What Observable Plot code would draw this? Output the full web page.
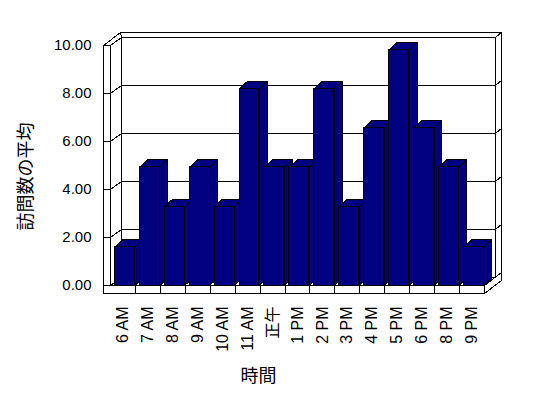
<!DOCTYPE html>
<html><head><meta charset="utf-8">
<script src="https://cdn.jsdelivr.net/npm/d3@7"></script>
<script src="https://cdn.jsdelivr.net/npm/@observablehq/plot@0.6"></script>
<style>
body{margin:0;background:#fff}
g[aria-label="x-axis tick label"]{font-size:16px}
g[aria-label="x-axis"] text{font-size:16px}
</style>
</head><body><div id="chart"></div>
<script>
const categories = ["6 AM","7 AM","8 AM","9 AM","10 AM","11 AM","正午","1 PM","2 PM","3 PM","4 PM","5 PM","6 PM","8 PM","9 PM"];
const values = [1.6,4.93,3.29,4.93,3.29,8.2,4.93,4.93,8.2,3.29,6.57,9.82,6.57,4.93,1.6];
const yTicks = [0,2,4,6,8,10];
const yTitle = "訪問数の平均";
const xTitle = "時間";

const N = categories.length;
const X0 = 0, X1 = N, Y0 = 0, Y1 = d3.max(yTicks);
const D1 = {x: 0.44, y: 0.333}, D2 = {x: 0.68, y: 0.54};
const WX = 0.28, FY = 0.333;
const BL = 0.175, BR = 0.975, BD = {x: 0.32, y: 0.31};
const NAVY = "#000080";
const CRISP = "crispEdges";

function poly(id, pts) { return [...pts, pts[0]].map(([x, y]) => ({id, x, y})); }

const frameFaces = [
  poly("back", [[X0+D1.x,Y0+D1.y],[X1+D1.x,Y0+D1.y],[X1+D1.x,Y1+D1.y],[X0+D1.x,Y1+D1.y]]),
  poly("leftInner", [[X0,Y0],[X0+D1.x,Y0+D1.y],[X0+D1.x,Y1+D1.y],[X0,Y1]]),
  poly("floorTop", [[X0,Y0],[X1,Y0],[X1+D1.x,Y0+D1.y],[X0+D1.x,Y0+D1.y]]),
  poly("backTop", [[X0+D1.x,Y1+D1.y],[X1+D1.x,Y1+D1.y],[X1+D2.x,Y1+D2.y],[X0-WX+D2.x,Y1+D2.y]]),
  poly("leftTop", [[X0-WX,Y1],[X0,Y1],[X0+D1.x,Y1+D1.y],[X0-WX+D2.x,Y1+D2.y]]),
  poly("backRight", [[X1+D1.x,Y1+D1.y],[X1+D2.x,Y1+D2.y],[X1+D2.x,Y0+D2.y],[X1+D1.x,Y0+D1.y]]),
  poly("floorRight", [[X1,Y0],[X1,Y0-FY],[X1+D2.x,Y0-FY+D2.y],[X1+D2.x,Y0+D2.y]]),
  poly("front", [[X0-WX,Y1],[X0,Y1],[X0,Y0],[X1,Y0],[X1,Y0-FY],[X0-WX,Y0-FY]])
].flat();

const inner = yTicks.filter(v => v > Y0 && v < Y1);
const links = [
  ...inner.map(v => ({x1: X0+D1.x, y1: v+D1.y, x2: X1+D1.x, y2: v+D1.y})),
  ...inner.map(v => ({x1: X0, y1: v, x2: X0+D1.x, y2: v+D1.y})),
  ...inner.map(v => ({x1: X1+D1.x, y1: v+D1.y, x2: X1+D2.x, y2: v+D2.y})),
  ...d3.range(1, N).map(k => ({x1: k, y1: Y0, x2: k, y2: Y0-FY})),
  ...yTicks.map(v => ({x1: X0-WX, y1: v, x2: X0, y2: v}))
];

const sides = values.flatMap((v, i) => poly("s"+i, [[i+BR,0],[i+BR+BD.x,BD.y],[i+BR+BD.x,v+BD.y],[i+BR,v]]));
const tops = values.flatMap((v, i) => poly("t"+i, [[i+BL,v],[i+BR,v],[i+BR+BD.x,v+BD.y],[i+BL+BD.x,v+BD.y]]));

const chart = Plot.plot({
  width: 548, height: 398,
  marginLeft: 110, marginRight: 64, marginTop: 45, marginBottom: 113,
  style: {fontFamily: "'Liberation Sans', Arial, 'Noto Sans CJK JP', sans-serif", fontSize: "15px", background: "#fff", color: "#000"},
  x: {domain: [X0, X1], ticks: categories.map((c, i) => i + 0.5), tickFormat: d => categories[Math.floor(d)], tickRotate: -90, tickSize: 0, tickPadding: 21, label: null},
  y: {domain: [Y0, Y1], ticks: yTicks, tickFormat: d => d.toFixed(2), tickSize: 0, tickPadding: 19, label: null},
  marks: [
    Plot.line(frameFaces, {x: "x", y: "y", z: "id", fill: "#fff", stroke: "#000", strokeWidth: 1, shapeRendering: CRISP}),
    Plot.link(links, {x1: "x1", y1: "y1", x2: "x2", y2: "y2", stroke: "#000", strokeWidth: 1, shapeRendering: CRISP}),
    Plot.line(sides, {x: "x", y: "y", z: "id", fill: NAVY, stroke: "#000", strokeWidth: 1, shapeRendering: CRISP}),
    Plot.line(tops, {x: "x", y: "y", z: "id", fill: NAVY, stroke: "#000", strokeWidth: 1, shapeRendering: CRISP}),
    Plot.rect(values, {x1: (d, i) => i + BL, x2: (d, i) => i + BR, y1: 0, y2: d => d, fill: NAVY, stroke: "#000", strokeWidth: 1, shapeRendering: CRISP}),
    Plot.text([yTitle], {text: d => d, frameAnchor: "left", rotate: -90, dx: -84, dy: 11, textAnchor: "middle", lineAnchor: "middle", fontSize: 18, fontFamily: "'Noto Sans CJK JP', sans-serif"}),
    Plot.text([xTitle], {text: d => d, frameAnchor: "bottom", dx: -39, dy: 91, textAnchor: "middle", lineAnchor: "middle", fontSize: 18, fontFamily: "'Noto Sans CJK JP', sans-serif"})
  ]
});
document.getElementById("chart").appendChild(chart);
</script>
</body></html>
